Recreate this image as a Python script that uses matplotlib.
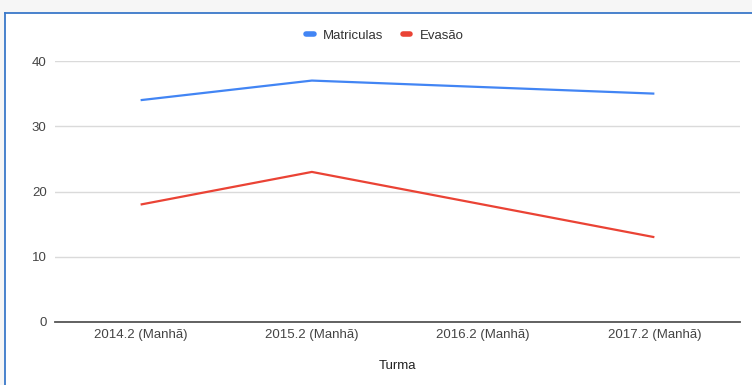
import matplotlib
matplotlib.use("Agg")
import matplotlib.pyplot as plt
from matplotlib.patches import Rectangle
from matplotlib.lines import Line2D

# Data
turmas = ["2014.2 (Manhã)", "2015.2 (Manhã)", "2016.2 (Manhã)", "2017.2 (Manhã)"]
matriculas = [34, 37, 36, 35]
evasao = [18, 23, 18, 13]
y_ticks = [0, 10, 20, 30, 40]

BLUE = "#4285f4"
RED = "#ea4335"
TEXT = "#444444"

plt.rcParams["font.family"] = ["Liberation Sans", "DejaVu Sans"]

W, H = 752, 385
fig = plt.figure(figsize=(W / 100, H / 100), dpi=100)
fig.patch.set_facecolor("#f6f6f6")

# White card with blue frame on left and top
card_left = 5 / W
card_top = 1 - 13 / H
fig.patches.append(Rectangle((card_left, 0), 1 - card_left, card_top,
                             transform=fig.transFigure, facecolor="white",
                             edgecolor="none", zorder=-5))
fig.add_artist(Line2D([card_left, card_left], [0, card_top], transform=fig.transFigure,
                      color="#3a78c9", linewidth=1.3, zorder=-4))
fig.add_artist(Line2D([card_left, 1], [card_top, card_top], transform=fig.transFigure,
                      color="#3a78c9", linewidth=1.3, zorder=-4))

ax_left, ax_right = 55 / W, 740 / W
ax_bottom, ax_top = 1 - 322 / H, 1 - 61 / H
ax = fig.add_axes([ax_left, ax_bottom, ax_right - ax_left, ax_top - ax_bottom])
ax.set_facecolor("none")

x = list(range(len(turmas)))
ax.plot(x, matriculas, color=BLUE, linewidth=1.6, label="Matriculas", solid_capstyle="butt")
ax.plot(x, evasao, color=RED, linewidth=1.6, label="Evasão", solid_capstyle="butt")

ax.set_xlim(-0.5, len(turmas) - 0.5)
ax.set_ylim(0, 40)
ax.set_yticks(y_ticks)
ax.set_xticks(x)
ax.set_xticklabels(turmas)
ax.tick_params(axis="both", length=0, labelsize=9.5, colors=TEXT)
ax.tick_params(axis="y", pad=6)
ax.tick_params(axis="x", pad=5)

ax.grid(axis="y", color="#dadada", linewidth=1)
ax.set_axisbelow(True)
for side in ["top", "right", "left"]:
    ax.spines[side].set_visible(False)
ax.spines["bottom"].set_color("#555555")
ax.spines["bottom"].set_linewidth(1.3)

ax.set_xlabel("Turma", fontsize=9.5, color="#222222", labelpad=14)

handles = [Line2D([], [], color=BLUE, linewidth=4, solid_capstyle="round"),
           Line2D([], [], color=RED, linewidth=4, solid_capstyle="round")]
fig.legend(handles, ["Matriculas", "Evasão"], loc="center",
           bbox_to_anchor=(385 / W, 1 - 36 / H), ncol=2, frameon=False,
           fontsize=9.5, handlelength=0.55, handletextpad=0.7, columnspacing=1.5,
           labelcolor="#333333")

fig.savefig("out.png", dpi=100, facecolor=fig.get_facecolor())
